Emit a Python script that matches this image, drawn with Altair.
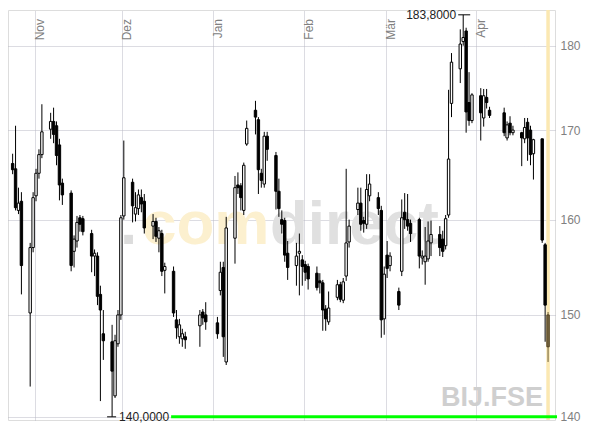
import altair as alt
import pandas as pd

# ---------------- data ----------------
dates = [
    "2006-10-24", "2006-10-25", "2006-10-26", "2006-10-27",
    "2006-10-30", "2006-10-31", "2006-11-01", "2006-11-02", "2006-11-03",
    "2006-11-06", "2006-11-07", "2006-11-08", "2006-11-09", "2006-11-10",
    "2006-11-13", "2006-11-14", "2006-11-15", "2006-11-16", "2006-11-17",
    "2006-11-20", "2006-11-21", "2006-11-22", "2006-11-23", "2006-11-24",
    "2006-11-27", "2006-11-28", "2006-11-29", "2006-11-30", "2006-12-01",
    "2006-12-04", "2006-12-05", "2006-12-06", "2006-12-07", "2006-12-08",
    "2006-12-11", "2006-12-12", "2006-12-13", "2006-12-14", "2006-12-15",
    "2006-12-18", "2006-12-19", "2006-12-20", "2006-12-21", "2006-12-22",
    "2006-12-27", "2006-12-28", "2006-12-29",
    "2007-01-02", "2007-01-03", "2007-01-04", "2007-01-05",
    "2007-01-08", "2007-01-09", "2007-01-10", "2007-01-11", "2007-01-12",
    "2007-01-15", "2007-01-16", "2007-01-17", "2007-01-18", "2007-01-19",
    "2007-01-22", "2007-01-23", "2007-01-24", "2007-01-25", "2007-01-26",
    "2007-01-29", "2007-01-30", "2007-01-31", "2007-02-01", "2007-02-02",
    "2007-02-05", "2007-02-06", "2007-02-07", "2007-02-08", "2007-02-09",
    "2007-02-12", "2007-02-13", "2007-02-14", "2007-02-15", "2007-02-16",
    "2007-02-19", "2007-02-20", "2007-02-21", "2007-02-22", "2007-02-23",
    "2007-02-26", "2007-02-27", "2007-02-28", "2007-03-01", "2007-03-02",
    "2007-03-05", "2007-03-06", "2007-03-07", "2007-03-08", "2007-03-09",
    "2007-03-12", "2007-03-13", "2007-03-14", "2007-03-15", "2007-03-16",
    "2007-03-19", "2007-03-20", "2007-03-21", "2007-03-22", "2007-03-23",
    "2007-03-26", "2007-03-27", "2007-03-28", "2007-03-29", "2007-03-30",
    "2007-04-02", "2007-04-03", "2007-04-04", "2007-04-05",
    "2007-04-10", "2007-04-11", "2007-04-12", "2007-04-13",
    "2007-04-16", "2007-04-17", "2007-04-18", "2007-04-19", "2007-04-20",
    "2007-04-23", "2007-04-24", "2007-04-25",
]
opens = [
    166.2, 165.6, 161.0, 162.0,
    150.2, 157.0, 162.6, 165.1, 167.2,
    170.1, 171.0, 170.5, 168.3, 164.0,
    162.9, 156.6, 157.7, 160.2, 160.1,
    158.5, 156.1, 156.1, 152.1, 148.1,
    147.3, 142.0, 147.1, 150.0, 160.4,
    164.1, 160.6, 161.2, 162.4, 162.0,
    159.3, 159.8, 158.0, 158.5, 154.6,
    154.5, 149.5, 147.8, 147.6, 147.8,
    148.9, 150.3, 150.0,
    149.2, 152.5, 154.9, 145.3,
    158.0, 163.8, 163.7, 161.0, 168.4,
    172.3, 171.2, 165.1, 163.9, 169.3,
    167.1, 163.1, 160.0, 159.9, 156.4,
    155.1, 156.4, 155.7, 155.2, 155.0,
    154.3, 153.5, 153.3, 150.6, 149.3,
    151.8, 153.1, 151.5, 154.0, 157.6,
    161.1, 161.8, 159.9, 159.5, 162.6,
    162.4, 161.0, 149.6, 156.2, 155.1,
    152.4, 154.5, 160.8, 160.0, 159.6,
    160.0, 155.9, 155.5, 155.8, 157.5,
    158.4, 157.9, 157.2, 160.5, 173.1,
    177.2, 180.5, 181.8, 173.2, 171.1,
    174.0, 171.4, 173.8, 172.3,
    172.0, 169.1, 170.8, 169.7,
    169.7, 169.0, 170.9, 170.0, 167.3,
    169.0, 157.3, 150.0,
]
highs = [
    167.3, 170.5, 163.5, 163.0,
    157.5, 163.0, 165.6, 167.8, 173.0,
    172.0, 172.6, 171.0, 169.0, 164.5,
    163.2, 158.3, 160.4, 160.5, 160.4,
    158.9, 156.8, 156.5, 153.0, 150.5,
    149.0, 148.0, 150.5, 160.5, 168.8,
    164.5, 163.0, 163.3, 163.3, 162.8,
    160.6, 160.2, 159.2, 158.9, 155.4,
    155.0, 150.5, 149.6, 148.6, 148.3,
    150.5, 150.6, 151.3,
    149.8, 155.5, 155.5, 160.3,
    164.8, 165.2, 164.0, 166.3, 171.1,
    173.4, 171.5, 165.6, 169.8, 169.8,
    167.5, 164.5, 161.0, 160.2, 157.7,
    157.5, 158.5, 156.2, 155.6, 155.3,
    155.0, 154.3, 153.6, 151.0, 152.4,
    153.6, 153.4, 153.8, 165.6, 160.0,
    163.5, 163.5, 160.3, 165.0, 165.0,
    163.0, 161.5, 155.0, 157.7, 156.5,
    152.8, 162.2, 162.9, 162.8, 160.0,
    160.2, 156.7, 159.2, 159.8, 159.9,
    159.3, 158.8, 160.5, 174.7, 179.1,
    182.0, 183.8, 182.2, 176.8, 174.3,
    174.9, 174.8, 174.8, 172.7,
    172.6, 171.0, 171.6, 170.5,
    169.8, 171.4, 171.4, 170.5, 169.0,
    169.0, 157.5, 150.3,
]
lows = [
    165.0, 161.0, 160.6, 152.1,
    142.9, 156.5, 162.0, 164.5, 166.8,
    169.0, 168.5, 166.0, 162.1, 161.6,
    154.5, 154.9, 157.0, 158.7, 158.3,
    154.4, 154.0, 151.0, 141.5, 145.5,
    140.0, 141.8, 146.8, 149.5, 160.0,
    159.7, 159.8, 160.5, 160.8, 158.5,
    157.9, 157.6, 156.5, 154.0, 152.2,
    149.8, 147.6, 147.1, 146.8, 146.6,
    146.8, 149.0, 148.5,
    147.6, 152.0, 145.8, 145.0,
    155.3, 162.8, 161.0, 160.5, 168.2,
    169.5, 162.8, 163.5, 163.5, 166.5,
    161.1, 160.3, 158.5, 155.5, 153.6,
    153.0, 152.0, 153.0, 153.5, 152.6,
    152.5, 152.2, 148.4, 148.4, 149.0,
    151.5, 151.3, 151.2, 153.5, 157.0,
    160.5, 158.8, 158.6, 159.0, 162.0,
    160.5, 147.7, 148.0, 153.8, 154.5,
    150.5, 154.0, 159.0, 158.8, 157.6,
    154.8, 155.2, 153.1, 155.5, 156.1,
    156.1, 156.0, 156.8, 160.2, 171.5,
    175.5, 180.0, 169.7, 170.5, 170.8,
    168.8, 170.4, 172.5, 171.4,
    169.3, 168.8, 169.4, 169.4,
    165.9, 168.5, 166.5, 166.0, 164.4,
    157.5, 147.3, 145.3,
]
closes = [
    165.5, 161.3, 161.8, 155.1,
    157.0, 162.4, 165.1, 167.2, 169.8,
    171.0, 169.5, 167.1, 163.8, 162.7,
    155.1, 157.9, 159.7, 159.5, 158.7,
    156.1, 156.4, 151.9, 150.5, 147.4,
    144.4, 147.4, 150.0, 160.2, 164.6,
    161.5, 161.3, 162.7, 161.7, 159.1,
    159.8, 158.2, 158.8, 154.5, 155.0,
    150.2, 148.7, 149.0, 148.1, 147.5,
    150.0, 149.7, 149.3,
    148.1, 154.4, 147.8, 159.1,
    163.5, 163.5, 162.4, 166.0, 170.2,
    171.5, 165.5, 164.3, 169.3, 167.8,
    163.1, 161.2, 159.5, 156.2, 154.9,
    156.1, 156.6, 155.0, 154.4, 153.7,
    152.8, 153.3, 150.5, 149.6, 150.7,
    153.1, 151.6, 153.4, 157.5, 159.3,
    161.8, 159.5, 159.6, 163.3, 163.9,
    161.2, 149.5, 154.2, 154.8, 156.1,
    151.0, 160.2, 160.0, 159.3, 158.5,
    156.1, 156.1, 156.1, 157.7, 158.4,
    157.0, 156.6, 160.1, 166.7, 178.0,
    180.2, 181.0, 172.1, 171.1, 174.1,
    172.0, 174.0, 173.2, 171.7,
    169.7, 170.6, 169.7, 170.0,
    169.1, 170.3, 169.1, 167.2, 168.9,
    157.8, 151.0, 146.8,
]
month_starts = ["2006-11-01", "2006-12-01", "2007-01-01", "2007-02-01", "2007-03-01", "2007-04-01"]
month_labels = ["Nov", "Dez", "Jan", "Feb", "Mär", "Apr"]
y_ticks = [140, 150, 160, 170, 180]
symbol = "BIJ.FSE"
brand_parts = [".", "com", "direct"]

# ---------------- layout ----------------
W, H = 547, 410
FONT = "Liberation Sans"

df = pd.DataFrame({"date": pd.to_datetime(dates), "open": opens, "high": highs,
                   "low": lows, "close": closes})
df["t"] = df["date"] + pd.Timedelta(hours=12)
df["kind"] = ["up" if c > o else "down" for o, c in zip(df["open"], df["close"])]
df.loc[df.index[-1], "kind"] = "last"

last = df.iloc[[-1]]
hi_row = df.loc[[df["high"].idxmax()]].copy()
lo_row = df.loc[[df["low"].idxmin()]].copy()
hi_row["lab"] = hi_row["high"].map(lambda v: f"{v:.4f}".replace(".", ","))
lo_row["lab"] = lo_row["low"].map(lambda v: f"{v:.4f}".replace(".", ","))

months = pd.DataFrame({"t": pd.to_datetime(month_starts), "lab": month_labels})

def dt(s, hours=0):
    d = pd.Timestamp(s)
    return alt.DateTime(year=d.year, month=d.month, date=d.day, hours=hours)

xscale = alt.Scale(domain=[dt("2006-10-22", 22), dt("2007-04-27", 21)],
                   padding=0, nice=False)
yscale = alt.Scale(type="log", domain=[139.7, 184.4], nice=False, zero=False, padding=0)

GRID = "#b8b8c4"
x_axis = alt.Axis(values=[dt(s) for s in month_starts], grid=True, gridColor=GRID,
                  gridDash=[1, 1], gridWidth=1, labels=False, ticks=False,
                  domain=False, title=None, orient="top")
y_axis = alt.Axis(values=y_ticks, orient="right", grid=True, gridColor=GRID,
                  gridDash=[1, 1], gridWidth=1, ticks=False, domain=False,
                  labelColor="#808080", labelFontSize=12, labelFont=FONT,
                  labelPadding=5, title=None, format="d")

def X(field="t"):
    return alt.X(f"{field}:T", scale=xscale, axis=x_axis)

def Y(field):
    return alt.Y(f"{field}:Q", scale=yscale, axis=y_axis)

base = alt.Chart(df)

band = alt.Chart(last).mark_rule(color="#fbe8b2", strokeWidth=3.5).encode(
    x=X(), y=alt.value(0), y2=alt.value(H))

def wm(text, x, color, size, align="left", y=234):
    return alt.Chart(pd.DataFrame({"s": [text]})).mark_text(
        align=align, baseline="alphabetic", font=FONT, fontWeight="bold",
        fontSize=size, color=color).encode(x=alt.value(x), y=alt.value(y), text="s:N")

wm1 = wm(brand_parts[0], 112, "#dcdcdc", 62)
wm2 = wm(brand_parts[1], 134, "#fcf0cf", 62)
wm3 = wm(brand_parts[2], 262, "#e0e0e0", 62)
wm4 = wm(symbol, 535, "#cfcfcf", 27, align="right", y=396)

kinds = ["up", "down", "last"]
wicks = base.mark_rule(strokeWidth=1).encode(
    x=X(), y=Y("low"), y2="high:Q",
    color=alt.Color("kind:N", scale=alt.Scale(domain=kinds,
                    range=["#000000", "#000000", "#6b5b34"]), legend=None))

bodies = base.mark_bar(width=2.4, strokeWidth=1).encode(
    x=X(), y=Y("open"), y2="close:Q",
    fill=alt.Fill("kind:N", scale=alt.Scale(domain=kinds,
                  range=["#ffffff", "#000000", "#7b6941"]), legend=None),
    stroke=alt.Stroke("kind:N", scale=alt.Scale(domain=kinds,
                      range=["#000000", "#000000", "#4e3f22"]), legend=None))

mlabels = alt.Chart(months).mark_text(
    angle=270, align="right", baseline="top", font=FONT, fontSize=12,
    color="#808080").encode(x=X(), y=alt.value(9), text="lab:N")

hi_rule = alt.Chart(hi_row).mark_rule(color="#000000", xOffset=-5, x2Offset=7).encode(
    x=X(), x2="t:T", y=Y("high"))
hi_text = alt.Chart(hi_row).mark_text(align="right", baseline="middle", dx=-7,
                                       font=FONT, fontSize=12, color="#222222").encode(
    x=X(), y=Y("high"), text="lab:N")
lo_rule = alt.Chart(lo_row).mark_rule(color="#000000", xOffset=-5, x2Offset=4).encode(
    x=X(), x2="t:T", y=Y("low"))
lo_text = alt.Chart(lo_row).mark_text(align="left", baseline="middle", dx=7,
                                       font=FONT, fontSize=12, color="#222222").encode(
    x=X(), y=Y("low"), text="lab:N")

green1 = alt.Chart(lo_row).mark_rule(color="#00ff00", strokeWidth=3, xOffset=59).encode(
    x=X(), x2=alt.value(W + 2), y=Y("low"))

chart = alt.layer(
    band, wm1, wm2, wm3, wm4, wicks, bodies, mlabels,
    hi_rule, hi_text, lo_rule, lo_text, green1
).properties(
    width=W, height=H, padding=0, background="#ffffff"
).configure_view(stroke=None).configure(font=FONT)

chart.save("out.html", embed_options={"renderer": "svg", "actions": False})
